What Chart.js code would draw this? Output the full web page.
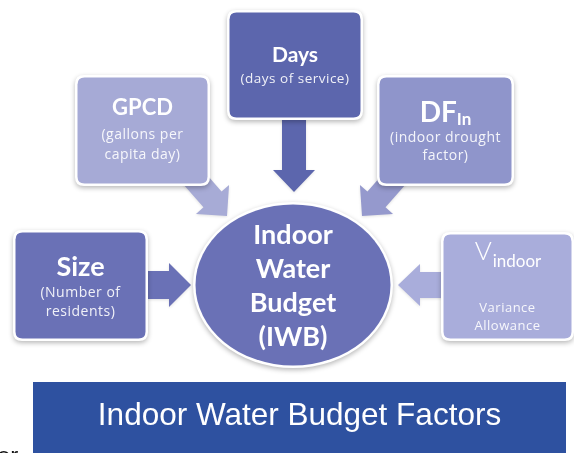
<!DOCTYPE html>
<html>
<head>
<meta charset="utf-8">
<script src="https://cdn.jsdelivr.net/npm/chart.js@4"></script>
<style>
html,body{margin:0;padding:0;background:#fff;overflow:hidden;}
canvas{display:block;}
</style>
</head>
<body>
<canvas id="c" width="574" height="453"></canvas>
<script>
// ---- data (diagram content) ----
const nodeNames = ["Size", "GPCD", "Days", "DF", "V"];
const nodeSubscripts = ["", "", "", "In", "indoor"];
const nodeDescriptions = [
  ["(Number of", "residents)"],
  ["(gallons per", "capita day)"],
  ["(days of service)"],
  ["(indoor drought", "factor)"],
  ["Variance", "Allowance"]
];
const centerLines = ["Indoor", "Water", "Budget", "(IWB)"];
const bannerTitle = "Indoor Water Budget Factors";

// ---- layout (in scale units) ----
const boxRects = [[13,230,148,341],[75,75,210,186],[227,10,363,120],[377,75,514,186],[441,232,574,341]];
const boxColors = ["#6a71b6","#a6aad6","#5c66ad","#8f95cb","#a9addb"];
const arrowColors = ["#6a71b6","#a7abd6","#5c66ad","#9599cd","#a9addb"];
const arrows = [
  {f:[148,285], t:[191,285], sw:14, hw:22, hl:22},
  {f:[185,168], t:[227,216], sw:12, hw:22, hl:22},
  {f:[294,115], t:[294,192], sw:12, hw:21, hl:22},
  {f:[404,168], t:[362,216], sw:12, hw:22, hl:22},
  {f:[443,285], t:[398,285], sw:13, hw:21, hl:22}
];
const circle = {x:293, y:285, rx:100, ry:83};

const FONT = "Lato, 'Open Sans', sans-serif";
const SUBFONT = "'Open Sans', Lato, sans-serif";

function rr(ctx,x,y,w,h,r){
  ctx.beginPath();
  ctx.moveTo(x+r,y);
  ctx.lineTo(x+w-r,y); ctx.quadraticCurveTo(x+w,y,x+w,y+r);
  ctx.lineTo(x+w,y+h-r); ctx.quadraticCurveTo(x+w,y+h,x+w-r,y+h);
  ctx.lineTo(x+r,y+h); ctx.quadraticCurveTo(x,y+h,x,y+h-r);
  ctx.lineTo(x,y+r); ctx.quadraticCurveTo(x,y,x+r,y);
  ctx.closePath();
}

const diagramPlugin = {
  id: 'diagram',
  afterDatasetsDraw(chart){
    const ctx = chart.ctx;
    const sx = chart.scales.x, sy = chart.scales.y;
    const X = v => sx.getPixelForValue(v);
    const Y = v => sy.getPixelForValue(v);

    // arrows
    arrows.forEach((a,i)=>{
      const fx=X(a.f[0]), fy=Y(a.f[1]), tx=X(a.t[0]), ty=Y(a.t[1]);
      const dx=tx-fx, dy=ty-fy, L=Math.hypot(dx,dy);
      const ux=dx/L, uy=dy/L, px=-uy, py=ux;
      const bx=tx-ux*a.hl, by=ty-uy*a.hl;
      ctx.save();
      ctx.fillStyle=arrowColors[i];
      ctx.shadowColor='rgba(0,0,0,0.12)'; ctx.shadowBlur=3; ctx.shadowOffsetY=1;
      ctx.beginPath();
      ctx.moveTo(fx+px*a.sw, fy+py*a.sw);
      ctx.lineTo(bx+px*a.sw, by+py*a.sw);
      ctx.lineTo(bx+px*a.hw, by+py*a.hw);
      ctx.lineTo(tx,ty);
      ctx.lineTo(bx-px*a.hw, by-py*a.hw);
      ctx.lineTo(bx-px*a.sw, by-py*a.sw);
      ctx.lineTo(fx-px*a.sw, fy-py*a.sw);
      ctx.closePath();
      ctx.fill();
      ctx.restore();
    });

    // boxes
    boxRects.forEach((r,i)=>{
      const x0=X(r[0]), y0=Y(r[1]), x1=X(r[2]), y1=Y(r[3]);
      ctx.save();
      ctx.shadowColor='rgba(0,0,0,0.28)'; ctx.shadowBlur=5; ctx.shadowOffsetY=2;
      rr(ctx,x0,y0,x1-x0,y1-y0,9);
      ctx.fillStyle='#ffffff'; ctx.fill();
      ctx.restore();
      ctx.save();
      rr(ctx,x0+2.5,y0+2.5,x1-x0-5,y1-y0-5,7);
      ctx.fillStyle=boxColors[i]; ctx.fill();
      ctx.restore();
    });

    // circle
    const cx=X(circle.x), cy=Y(circle.y);
    ctx.save();
    ctx.shadowColor='rgba(0,0,0,0.28)'; ctx.shadowBlur=5; ctx.shadowOffsetY=2;
    ctx.beginPath(); ctx.ellipse(cx,cy,circle.rx,circle.ry,0,0,Math.PI*2);
    ctx.fillStyle='#ffffff'; ctx.fill();
    ctx.restore();
    ctx.save();
    ctx.beginPath(); ctx.ellipse(cx,cy,circle.rx-2.5,circle.ry-2.5,0,0,Math.PI*2);
    ctx.fillStyle='#6a71b6'; ctx.fill();
    ctx.restore();

    // texts
    ctx.save();
    ctx.textBaseline='middle';
    ctx.textAlign='center';
    ctx.fillStyle='#ffffff';
    ctx.font="bold 27px "+FONT;
    const cyl=[235,269,303,337];
    centerLines.forEach((t,k)=>ctx.fillText(t,cx,Y(cyl[k])));

    const titleY=[267,108,55,113,252];
    const titleSize=[27,22,21,28,26];
    const subSize=[0,0,0,17,17];
    const descY=[[293,312],[135,155],[79],[138,156],[308,326]];
    const descSize=[14,14,13.5,14,13];
    nodeNames.forEach((name,i)=>{
      const r=boxRects[i];
      const bx=X((r[0]+r[2])/2);
      const ty=Y(titleY[i]);
      const isV = i===4;
      const fMain=(isV?"300 ":"bold ")+titleSize[i]+"px "+FONT;
      ctx.font=fMain;
      const w1=ctx.measureText(name).width;
      let w2=0;
      const fSub=(isV?"400 ":"bold ")+subSize[i]+"px "+FONT;
      if(nodeSubscripts[i]){ ctx.font=fSub; w2=ctx.measureText(nodeSubscripts[i]).width; }
      const start=bx-(w1+w2)/2;
      ctx.textAlign='left';
      ctx.fillStyle='#ffffff';
      ctx.font=fMain; ctx.fillText(name,start,ty);
      if(nodeSubscripts[i]){ ctx.font=fSub; ctx.fillText(nodeSubscripts[i],start+w1+(isV?1:0),ty+(isV?10:7)); }
      ctx.textAlign='center';
      ctx.fillStyle='rgba(255,255,255,0.9)';
      ctx.font=descSize[i]+"px "+SUBFONT;
      ctx.letterSpacing='0.5px';
      nodeDescriptions[i].forEach((t,k)=>ctx.fillText(t,bx,Y(descY[i][k])));
      ctx.letterSpacing='0px';
    });
    ctx.restore();

    // banner
    ctx.save();
    ctx.fillStyle='#2e51a0';
    ctx.fillRect(X(33),Y(382),X(566)-X(33),Y(453)-Y(382));
    ctx.fillStyle='#ffffff';
    ctx.font="31.5px 'Liberation Sans', Arial, sans-serif";
    ctx.textAlign='center'; ctx.textBaseline='middle';
    ctx.fillText(bannerTitle,X(299.5),Y(416));
    ctx.fillStyle='#111111';
    ctx.textAlign='left'; ctx.textBaseline='alphabetic';
    ctx.font="24px 'Liberation Sans', Arial, sans-serif";
    ctx.fillText("or",X(-3),Y(464));
    ctx.restore();
  }
};

new Chart(document.getElementById('c'), {
  type: 'scatter',
  data: {
    datasets: [{
      label: 'nodes',
      data: boxRects.map(r=>({x:(r[0]+r[2])/2, y:(r[1]+r[3])/2})),
      pointRadius: 0
    }]
  },
  options: {
    responsive: false,
    animation: false,
    layout: {padding: 0},
    plugins: {legend:{display:false}, tooltip:{enabled:false}},
    scales: {
      x: {type:'linear', min:0, max:574, display:false},
      y: {type:'linear', min:0, max:453, reverse:true, display:false}
    }
  },
  plugins: [diagramPlugin]
});
</script>
</body>
</html>
